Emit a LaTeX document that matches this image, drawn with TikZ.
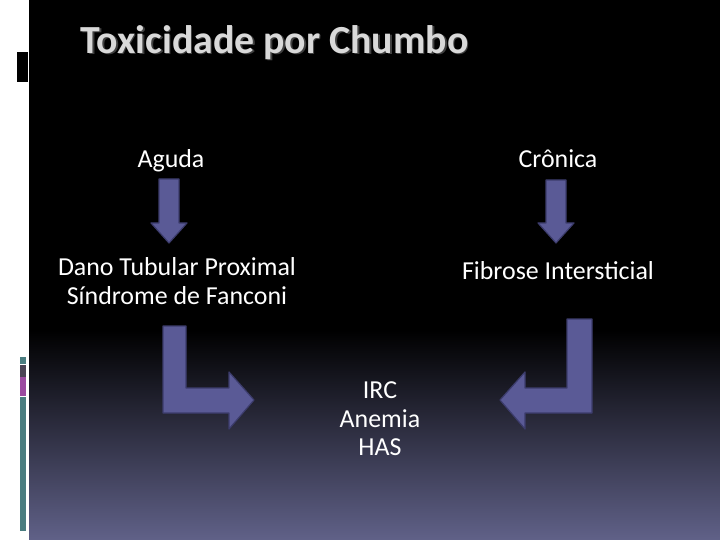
\documentclass[tikz,border=0pt]{standalone}
\usepackage{fontspec}
\setmainfont{Carlito}
\definecolor{setaazul}{RGB}{90,90,150}
\definecolor{setaborda}{RGB}{60,60,108}
\definecolor{fundobaixo}{RGB}{96,97,136}
\definecolor{titulocinza}{RGB}{217,217,217}
\definecolor{barraverde}{RGB}{74,125,128}
\definecolor{barraescura}{RGB}{75,68,85}
\definecolor{barramagenta}{RGB}{155,74,160}

\begin{document}
\begin{tikzpicture}[x=1bp,y=-1bp,line cap=round,line join=round,
    texto/.style={text=white,font=\fontsize{26}{28.5}\selectfont,align=center},
    seta/.style={fill=setaazul,draw=setaborda,line width=1.2pt}]
        \useasboundingbox (0,0) rectangle (720,540);

        % Fundo do slide
        \fill[white] (0,0) rectangle (720,540);
        \fill[black] (29,0) rectangle (720,331);
        \shade[top color=black,bottom color=fundobaixo]
            (29,330) rectangle (720,540);
        \fill[black] (17,52) rectangle (28,82);

        % Barras laterais
        \fill[barraverde] (20,357) rectangle (26,364);
        \fill[barraescura] (20,365) rectangle (26,377);
        \fill[barramagenta] (20,377) rectangle (26,396);
        \fill[barraverde] (20,397) rectangle (26,531);

        % Titulo
        \node[anchor=base west,text=black!75,
              font=\fontsize{40}{46}\selectfont\bfseries]
            at (78.5,55) {Toxicidade por Chumbo};
        \node[anchor=base west,text=titulocinza,
              font=\fontsize{40}{46}\selectfont\bfseries]
            (titulo) at (77,53.5) {Toxicidade por Chumbo};

        % Textos
        \node[texto,anchor=base] (aguda) at (171,168) {Aguda};
        \node[texto,anchor=base] (cronica) at (558,168) {Crônica};
        \node[texto] (dano) at (177,281)
            {Dano Tubular Proximal\\Síndrome de Fanconi};
        \node[texto,anchor=base] (fibrose) at (558,280) {Fibrose Intersticial};
        \node[texto] (irc) at (380,419) {IRC\\Anemia\\HAS};

        % Setas para baixo
        \draw[seta] (159,179) -- (179,179) -- (179,223) -- (187,223)
            -- (169,243) -- (151,223) -- (159,223) -- cycle;
        \draw[seta] (546,180) -- (566,180) -- (566,223) -- (574,223)
            -- (556,243) -- (538,223) -- (546,223) -- cycle;

        % Setas em L
        \draw[seta] (163,326) -- (186,326) -- (186,388) -- (229,388)
            -- (229,372) -- (254,400) -- (229,429) -- (229,413)
            -- (163,413) -- cycle;
        \draw[seta] (592,319) -- (567,319) -- (567,388) -- (525,388)
            -- (525,372) -- (500,400) -- (525,429) -- (525,413)
            -- (592,413) -- cycle;
    \end{tikzpicture}
\end{document}
